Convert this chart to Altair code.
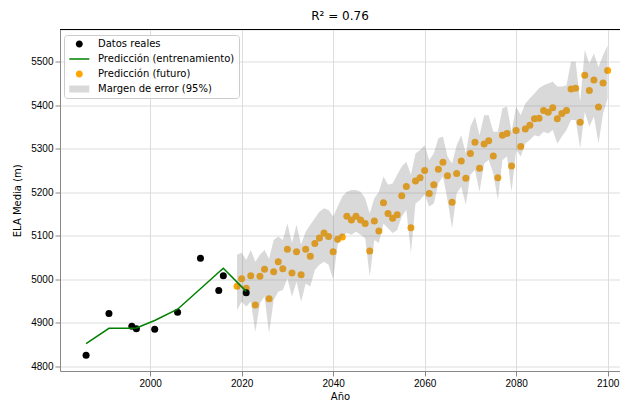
import altair as alt
import pandas as pd

# ---------------- data ----------------
years_real = [1986, 1991, 1996, 1997, 2001, 2006, 2011, 2015, 2016, 2021]
ela_real = [4825, 4921, 4892, 4886, 4885, 4924, 5048, 4974, 5008, 4969]
ela_train = [4852, 4887, 4887, 4888, 4905, 4931, 4978, 5016, 5025, 4972]

years_future = list(range(2019, 2101))
ela_future = [
    4984, 5001, 4979, 5008, 4941, 5007, 5023, 4955, 5017, 5040, 5024, 5069, 5014, 5063, 5010, 5069, 5053, 5082, 5095, 5106, 5098, 5063,
    5092, 5097, 5145, 5136, 5145, 5136, 5128, 5065, 5134, 5111, 5176, 5151, 5140, 5148, 5192, 5213, 5118, 5226, 5233, 5250, 5197, 5217,
    5253, 5269, 5238, 5177, 5243, 5272, 5232, 5289, 5315, 5255, 5311, 5318, 5283, 5233, 5331, 5335, 5260, 5342, 5305, 5345, 5354, 5369,
    5370, 5388, 5384, 5394, 5369, 5381, 5388, 5437, 5439, 5361, 5469, 5434, 5458, 5396, 5451, 5480,
]
band_upper = [
    5056, 5061, 5044, 5067, 5040, 5056, 5067, 5047, 5090, 5098, 5090, 5128, 5083, 5125, 5079, 5109, 5125, 5140, 5155, 5163, 5159, 5144,
    5167, 5190, 5201, 5205, 5205, 5201, 5186, 5151, 5186, 5201, 5236, 5217, 5220, 5240, 5259, 5270, 5240, 5289, 5297, 5308, 5274, 5289,
    5324, 5328, 5282, 5266, 5308, 5331, 5289, 5351, 5374, 5331, 5377, 5377, 5339, 5339, 5393, 5397, 5339, 5397, 5377, 5404, 5416, 5427,
    5439, 5446, 5450, 5454, 5443, 5443, 5446, 5500, 5500, 5408, 5527, 5496, 5519, 5488, 5515, 5538,
]
band_lower = [
    4929, 4948, 4937, 4948, 4879, 4945, 4960, 4876, 4952, 4971, 4975, 5002, 4960, 4994, 4948, 4990, 4983, 5021, 5033, 5040, 5033, 5000,
    5079, 5098, 5106, 5102, 5109, 5102, 5094, 5006, 5090, 5083, 5128, 5117, 5106, 5113, 5144, 5159, 5060, 5174, 5182, 5194, 5167, 5174,
    5220, 5236, 5182, 5117, 5197, 5213, 5171, 5240, 5251, 5201, 5266, 5274, 5243, 5182, 5274, 5282, 5201, 5297, 5282, 5312, 5320, 5331,
    5328, 5339, 5335, 5343, 5312, 5328, 5343, 5366, 5366, 5301, 5385, 5351, 5374, 5312, 5381, 5416,
]

x_ticks = [2000, 2020, 2040, 2060, 2080, 2100]
y_ticks = [4800, 4900, 5000, 5100, 5200, 5300, 5400, 5500]

legend_labels = ["Datos reales", "Predicción (entrenamiento)", "Predicción (futuro)", "Margen de error (95%)"]
legend_colors = ["black", "green", "orange", "#d9d9d9"]
legend_shapes = [
    "M0.56,0A0.7,0.7 0 1,0 1.96,0A0.7,0.7 0 1,0 0.56,0Z",
    "M-0.74,-0.15H3.26V0.15H-0.74Z",
    "M0.56,0A0.7,0.7 0 1,0 1.96,0A0.7,0.7 0 1,0 0.56,0Z",
    "M-0.74,-0.7H3.26V0.7H-0.74Z",
]

real_df = pd.DataFrame({"year": years_real, "ela": ela_real, "train": ela_train})
fut_df = pd.DataFrame({"year": years_future, "ela": ela_future, "lo": band_lower, "hi": band_upper})
leg_df = pd.DataFrame({"label": legend_labels, "year": [1900] * 4, "ela": [5000] * 4})

FONT = "DejaVu Sans"
W, H = 560, 341.5

xscale = alt.Scale(domain=[1980.3, 2102.7], nice=False, zero=False)
yscale = alt.Scale(domain=[4789, 5574], nice=False, zero=False)
xaxis = alt.Axis(title="Año", values=x_ticks, format="d", titlePadding=3,
                 titleFontWeight=400, titleFont=FONT, titleFontSize=10)
yaxis = alt.Axis(title="ELA Media (m)", values=y_ticks, format="d", titlePadding=8,
                 titleFontWeight=400, titleFont=FONT, titleFontSize=10)


def X(field):
    return alt.X(field, type="quantitative", scale=xscale, axis=xaxis)


def Y(field):
    return alt.Y(field, type="quantitative", scale=yscale, axis=yaxis)


future_pts = alt.Chart(fut_df).mark_circle(color="orange", size=49, opacity=1).encode(
    x=X("year"), y=Y("ela")
)
band = alt.Chart(fut_df).mark_area(color="gray", opacity=0.3).encode(
    x=X("year"), y=Y("lo"), y2="hi"
)
real_pts = alt.Chart(real_df).mark_circle(color="black", size=49, opacity=1).encode(
    x=X("year"), y=Y("ela")
)
train_line = alt.Chart(real_df).mark_line(color="green", strokeWidth=1.5).encode(
    x=X("year"), y=Y("train")
)
top_rule = alt.Chart(leg_df).mark_rule(color="black", strokeWidth=0.8).encode(
    x=alt.value(0), x2=alt.value(W), y=alt.value(0)
)

leg_spec = alt.Legend(
    title=None,
    orient="none",
    legendX=4,
    legendY=5.5,
    padding=4,
    rowPadding=5,
    symbolSize=100,
    symbolStrokeWidth=0,
    symbolOpacity=1,
    labelOffset=20,
    labelFont=FONT,
    labelFontSize=10,
    labelColor="black",
    fillColor="rgba(255,255,255,0.8)",
    strokeColor="#cccccc",
    cornerRadius=3,
)
legend_layer = alt.Chart(leg_df).mark_point(filled=True, size=100, clip=True, opacity=1).encode(
    x=X("year"),
    y=Y("ela"),
    color=alt.Color("label:N", scale=alt.Scale(domain=legend_labels, range=legend_colors), legend=leg_spec),
    shape=alt.Shape("label:N", scale=alt.Scale(domain=legend_labels, range=legend_shapes), legend=leg_spec),
)

chart = (
    alt.layer(future_pts, band, real_pts, train_line, top_rule, legend_layer)
    .properties(
        width=W,
        height=H,
        padding={"left": 52, "top": 21.5, "right": 0, "bottom": 34},
        autosize=alt.AutoSizeParams(type="none"),
        title=alt.Title("R² = 0.76", font=FONT, fontSize=12, fontWeight="normal", color="black", offset=6),
    )
    .configure_view(stroke=None)
    .configure_axis(
        domainColor="black",
        domainWidth=0.8,
        tickColor="black",
        tickWidth=0.8,
        tickSize=3.5,
        labelPadding=3.5,
        labelFont=FONT,
        labelFontSize=10,
        labelColor="black",
        titleFont=FONT,
        titleFontSize=10,
        titleFontWeight=400,
        titleColor="black",
        grid=True,
        gridColor="#b0b0b0",
        gridWidth=0.8,
    )
    .configure(background="white")
)

chart.save("out.html", embed_options={"renderer": "svg", "actions": False})
